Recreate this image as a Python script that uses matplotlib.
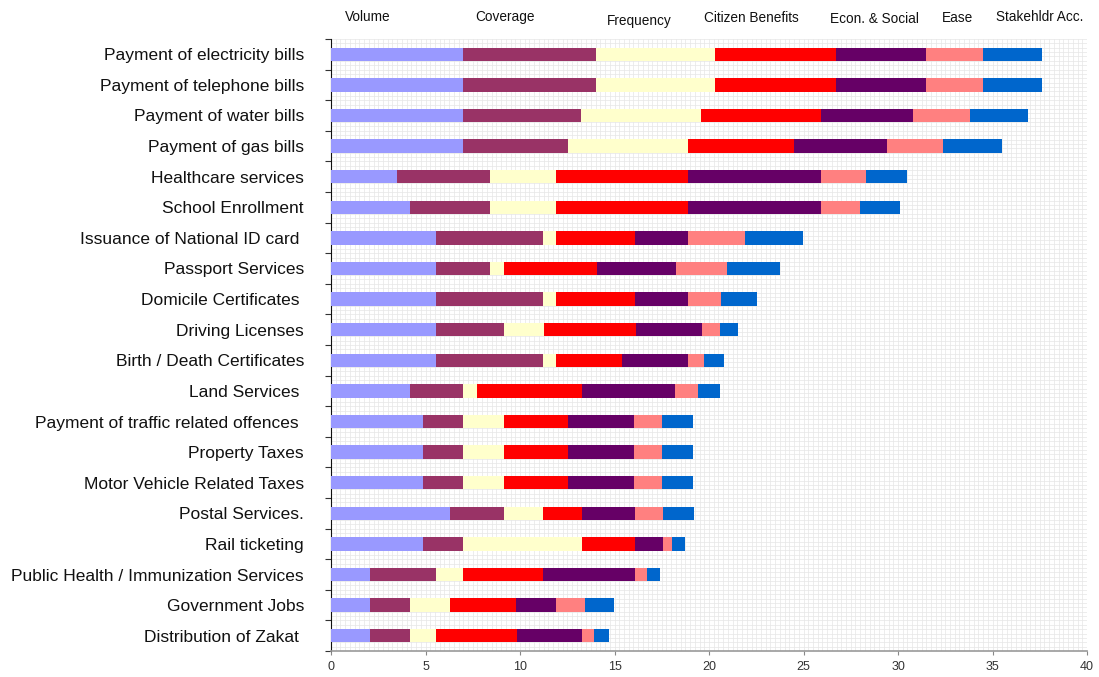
import numpy as np
import matplotlib.pyplot as plt
from matplotlib.ticker import FixedLocator, MultipleLocator

plt.rcParams['font.family'] = ['Liberation Sans', 'DejaVu Sans']

services = ["Payment of electricity bills", "Payment of telephone bills",
            "Payment of water bills", "Payment of gas bills",
            "Healthcare services", "School Enrollment",
            "Issuance of National ID card ", "Passport Services",
            "Domicile Certificates ", "Driving Licenses",
            "Birth / Death Certificates", "Land Services ",
            "Payment of traffic related offences ", "Property Taxes",
            "Motor Vehicle Related Taxes", "Postal Services.",
            "Rail ticketing", "Public Health / Immunization Services",
            "Government Jobs", "Distribution of Zakat "]

criteria = ["Volume", "Coverage", "Frequency", "Citizen Benefits",
            "Econ. & Social", "Ease", "Stakehldr Acc."]

# scores per criterion, one value per service (top to bottom)
volume      = [7.0, 7.0, 7.0, 7.0, 3.5, 4.2, 5.55, 5.55, 5.55, 5.55,
               5.55, 4.2, 4.85, 4.85, 4.85, 6.3, 4.85, 2.05, 2.05, 2.05]
coverage    = [7.0, 7.0, 6.25, 5.55, 4.9, 4.2, 5.65, 2.85, 5.65, 3.6,
               5.65, 2.8, 2.15, 2.15, 2.15, 2.85, 2.15, 3.5, 2.15, 2.15]
frequency   = [6.3, 6.3, 6.35, 6.35, 3.5, 3.5, 0.7, 0.75, 0.7, 2.1,
               0.7, 0.7, 2.15, 2.15, 2.15, 2.05, 6.3, 1.45, 2.1, 1.35]
citizen     = [6.4, 6.4, 6.35, 5.6, 7.0, 7.0, 4.2, 4.9, 4.2, 4.9,
               3.5, 5.6, 3.4, 3.4, 3.4, 2.1, 2.8, 4.2, 3.5, 4.3]
econ_social = [4.8, 4.8, 4.85, 4.9, 7.0, 7.0, 2.8, 4.2, 2.8, 3.5,
               3.5, 4.9, 3.5, 3.5, 3.5, 2.8, 1.45, 4.9, 2.1, 3.45]
ease        = [3.0, 3.0, 3.0, 3.0, 2.4, 2.1, 3.0, 2.7, 1.75, 0.95,
               0.85, 1.2, 1.45, 1.45, 1.45, 1.45, 0.5, 0.6, 1.55, 0.6]
stakeholder = [3.1, 3.1, 3.1, 3.1, 2.15, 2.1, 3.07, 2.8, 1.9, 0.95,
               1.05, 1.2, 1.65, 1.65, 1.65, 1.65, 0.7, 0.7, 1.5, 0.8]

series = [volume, coverage, frequency, citizen, econ_social, ease, stakeholder]
colors = ['#9999FF', '#993366', '#FFFFCC', '#FF0000', '#660066', '#FF8080', '#0066CC']

fig = plt.figure(figsize=(10.99, 6.77), dpi=100)
ax = fig.add_axes([0.3012, 0.0384, 0.6879, 0.904])

y = np.arange(len(services))
left = np.zeros(len(services))
for vals, col in zip(series, colors):
    ax.barh(y, vals, left=left, height=0.44, color=col, zorder=3, linewidth=0)
    left += np.array(vals)

ax.set_xlim(0, 40)
ax.set_ylim(len(services) - 0.5, -0.5)

# fine background grid
for gx in np.arange(0.25, 40, 0.25):
    ax.axvline(gx, color='#e6e6e6', lw=0.5, zorder=1)
for gy in np.arange(-0.5, len(services) - 0.5, 1 / 7):
    ax.axhline(gy, color='#e6e6e6', lw=0.5, zorder=1)

# category ticks sit between rows, labels at row centres
ax.yaxis.set_major_locator(FixedLocator(np.arange(-0.5, len(services), 1)))
ax.yaxis.set_major_formatter(plt.NullFormatter())
ax.yaxis.set_minor_locator(FixedLocator(y))
ax.set_yticklabels(services, minor=True)
ax.tick_params(axis='y', which='major', length=4, direction='out', color='#333333')
ax.tick_params(axis='y', which='minor', length=0, pad=19.5, labelsize=12.5,
               labelcolor='#111111')

ax.xaxis.set_major_locator(MultipleLocator(5))
ax.tick_params(axis='x', length=3, color='#888888', labelsize=9,
               labelcolor='#333333', pad=4)

for s in ['top', 'right']:
    ax.spines[s].set_visible(False)
ax.spines['bottom'].set_color('#999999')
ax.spines['bottom'].set_linewidth(1.2)
ax.spines['left'].set_color('#111111')

# criteria names along the top
label_x = [345, 475, 607, 704, 830, 942, 996]
label_y = [17, 17, 21, 18, 19, 18, 17]
for name, px, py in zip(criteria, label_x, label_y):
    fig.text(px / 1099, 1 - py / 677, name, fontsize=9.8, color='#111111',
             ha='left', va='center')

fig.savefig('out.png', dpi=100)
